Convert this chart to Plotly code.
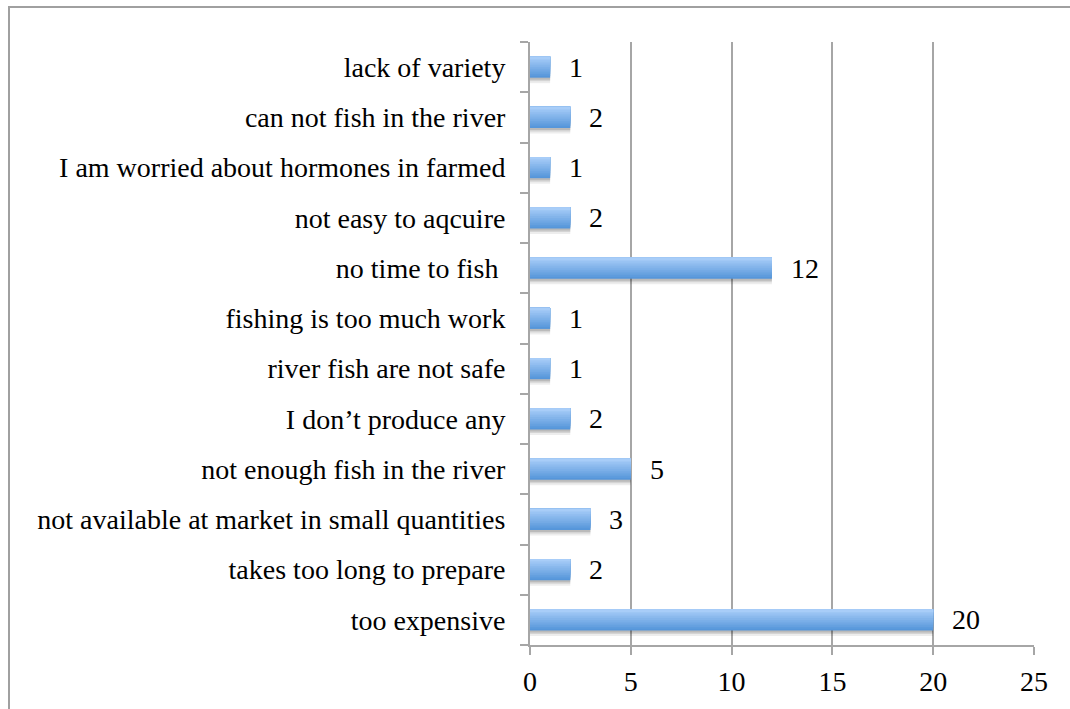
import plotly.graph_objects as go

# Survey responses: reasons for not eating more fish (listed bottom to top)
reasons = [
    "too expensive",
    "takes too long to prepare",
    "not available at market in small quantities",
    "not enough fish in the river",
    "I don\u2019t produce any",
    "river fish are not safe",
    "fishing is too much work",
    "no time to fish ",
    "not easy to aqcuire",
    "I am worried about hormones in farmed",
    "can not fish in the river",
    "lack of variety",
]
counts = [20, 2, 3, 5, 2, 1, 1, 12, 2, 1, 2, 1]
x_ticks = [0, 5, 10, 15, 20, 25]

FONT = "Liberation Serif"
FS = 28
GRID = "#A6A6A6"
BAR_W = 0.42

fig = go.Figure()

# soft drop shadow under each bar
for dy, alpha in [(0.11, 0.07), (0.07, 0.10), (0.04, 0.12)]:
    fig.add_trace(go.Bar(
        y=reasons, x=counts, orientation="h",
        width=BAR_W, offset=-BAR_W / 2 - dy,
        marker=dict(color=f"rgba(0,0,0,{alpha})", line=dict(width=0)),
        hoverinfo="skip", showlegend=False,
    ))

# vertical gradient: deeper blue at the bottom to light blue on top,
# each layer reaching the top edge so no seams show between layers
top_rgb = (168, 205, 248)
bot_rgb = (86, 150, 218)
n_strips = 12
strip = BAR_W / n_strips
for i in range(n_strips):
    t = i / (n_strips - 1)
    r, g, b = (round(bot_rgb[j] + (top_rgb[j] - bot_rgb[j]) * t) for j in range(3))
    fig.add_trace(go.Bar(
        y=reasons, x=counts, orientation="h",
        width=BAR_W - i * strip, offset=-BAR_W / 2 + i * strip,
        marker=dict(color=f"rgb({r},{g},{b})", line=dict(width=0)),
        hoverinfo="skip", showlegend=False,
    ))

# value labels to the right of each bar
for name, v in zip(reasons, counts):
    fig.add_annotation(
        x=v, y=name, text=str(v), showarrow=False,
        xanchor="left", xshift=17, yshift=0,
        font=dict(family=FONT, size=FS, color="black"),
    )

# outer frame around the chart
fig.add_shape(
    type="rect", xref="paper", yref="paper",
    x0=(9 - 530) / 504, x1=(1090 - 530) / 504,
    y0=(645 - 730) / 603, y1=(645 - 7) / 603,
    line=dict(color="#A0A0A0", width=2), layer="below",
)

fig.update_layout(
    width=1070, height=709,
    margin=dict(l=530, r=36, t=42, b=64, autoexpand=False),
    barmode="overlay",
    paper_bgcolor="white", plot_bgcolor="white",
    font=dict(family=FONT, size=FS, color="black"),
    xaxis=dict(
        range=[0, 25], tickvals=x_ticks, automargin=False,
        showgrid=True, gridcolor=GRID, gridwidth=2,
        showline=True, linecolor=GRID, linewidth=2,
        ticks="outside", ticklen=8, tickcolor=GRID, tickwidth=2,
        ticklabelstandoff=2, zeroline=False,
        tickfont=dict(family=FONT, size=FS),
    ),
    yaxis=dict(
        type="category", categoryorder="array", categoryarray=reasons,
        range=[-0.5, len(reasons) - 0.5], automargin=False,
        showgrid=False, showline=True, linecolor=GRID, linewidth=2,
        ticks="outside", ticklen=8, tickcolor=GRID, tickwidth=2,
        tickson="boundaries", ticklabelstandoff=17,
        tickfont=dict(family=FONT, size=FS),
    ),
)

fig.write_html("out.html")
